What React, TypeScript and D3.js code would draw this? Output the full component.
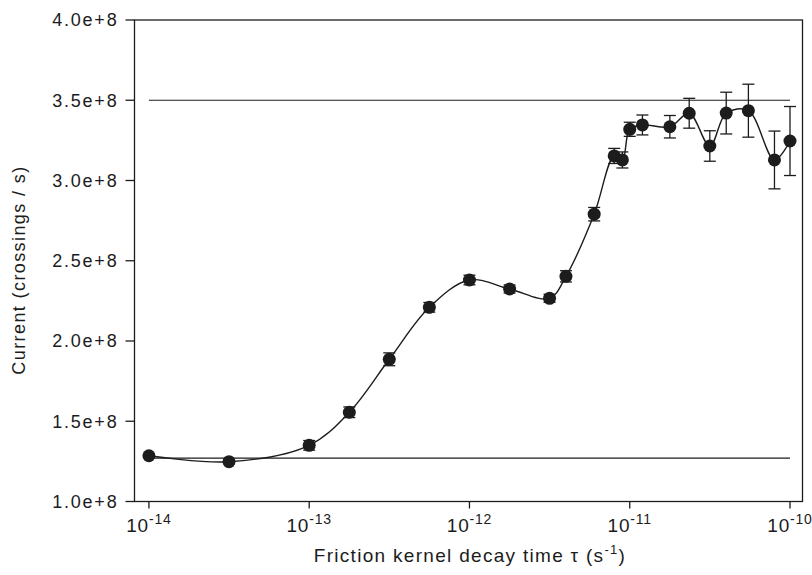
import React from 'react'
import * as d3 from 'd3'

// friction kernel decay time (s) and measured current (crossings / s)
const tau = [
  1e-14, 3.16e-14, 1e-13, 1.78e-13, 3.16e-13, 5.62e-13, 1e-12, 1.78e-12,
  3.16e-12, 4e-12, 6e-12, 8e-12, 9e-12, 1e-11, 1.2e-11, 1.78e-11,
  2.35e-11, 3.16e-11, 4e-11, 5.5e-11, 8e-11, 1e-10,
]
const current = [
  1.285e8, 1.248e8, 1.35e8, 1.556e8, 1.886e8, 2.21e8, 2.38e8, 2.324e8,
  2.266e8, 2.403e8, 2.79e8, 3.153e8, 3.128e8, 3.319e8, 3.346e8, 3.335e8,
  3.419e8, 3.215e8, 3.42e8, 3.435e8, 3.128e8, 3.246e8,
]
const currentErr = [
  0.012e8, 0.012e8, 0.03e8, 0.033e8, 0.04e8, 0.03e8, 0.03e8, 0.025e8,
  0.025e8, 0.035e8, 0.042e8, 0.047e8, 0.05e8, 0.044e8, 0.062e8, 0.07e8,
  0.093e8, 0.095e8, 0.13e8, 0.165e8, 0.18e8, 0.215e8,
]
// horizontal reference levels
const refLevels = [3.5e8, 1.27e8]
const refSpan = [1e-14, 1e-10]

const yTicks = [1e8, 1.5e8, 2e8, 2.5e8, 3e8, 3.5e8, 4e8]
const xTicks = [1e-14, 1e-13, 1e-12, 1e-11, 1e-10]

const W = 812
const H = 575
const LEFT = 134.5
const RIGHT = 802.5
const TOP = 20
const BOTTOM = 501.5
const INK = '#1c1c1c'
const FONT = '"Liberation Sans", Arial, sans-serif'

export default function App() {
  const x = d3.scaleLog().domain([10 ** -14.09, 10 ** -9.922]).range([LEFT, RIGHT])
  const y = d3.scaleLinear().domain([1e8, 4e8]).range([BOTTOM, TOP])

  const pts: [number, number][] = tau.map((t, i) => [x(t), y(current[i])])
  const curve = d3.line().curve(d3.curveCatmullRom.alpha(0.5))(pts) || ''

  return (
    <svg width={W} height={H} style={{ position: 'absolute', left: 0, top: 0, background: '#fff' }}>
      <rect x={0} y={0} width={W} height={H} fill="#fff" />
      {/* frame */}
      <rect x={LEFT} y={TOP} width={RIGHT - LEFT} height={BOTTOM - TOP}
        fill="none" stroke={INK} strokeWidth={1.3} />

      {/* y ticks */}
      {yTicks.map(v => (
        <g key={v}>
          <line x1={LEFT - 9} x2={LEFT} y1={y(v)} y2={y(v)} stroke={INK} strokeWidth={1.3} />
          <text x={LEFT - 16} y={y(v)} dy="0.36em" textAnchor="end" fontFamily={FONT}
            fontSize={18} letterSpacing={1.8} fill={INK}>
            {d3.format('.1e')(v)}
          </text>
        </g>
      ))}

      {/* x ticks */}
      {xTicks.map(v => (
        <g key={v}>
          <line x1={x(v)} x2={x(v)} y1={BOTTOM} y2={BOTTOM + 7} stroke={INK} strokeWidth={1.3} />
          <text x={x(v)} y={531.5} textAnchor="middle" fontFamily={FONT} fontSize={19}
            letterSpacing={0.8} fill={INK}>
            10<tspan fontSize={14} dy={-8}>{'-' + Math.round(-Math.log10(v))}</tspan>
          </text>
        </g>
      ))}

      {/* reference lines */}
      {refLevels.map(v => (
        <line key={v} x1={x(refSpan[0])} x2={x(refSpan[1])} y1={y(v)} y2={y(v)}
          stroke={INK} strokeWidth={1.2} />
      ))}

      {/* fitted curve */}
      <path d={curve} fill="none" stroke={INK} strokeWidth={1.4} />

      {/* error bars */}
      {tau.map((t, i) => {
        const cx = x(t)
        const y0 = y(current[i] - currentErr[i])
        const y1 = y(current[i] + currentErr[i])
        return (
          <g key={'e' + i} stroke={INK} strokeWidth={1.3}>
            <line x1={cx} x2={cx} y1={y0} y2={y1} />
            <line x1={cx - 6} x2={cx + 6} y1={y0} y2={y0} />
            <line x1={cx - 6} x2={cx + 6} y1={y1} y2={y1} />
          </g>
        )
      })}

      {/* markers */}
      {pts.map((p, i) => (
        <circle key={'p' + i} cx={p[0]} cy={p[1]} r={6.5} fill={INK} />
      ))}

      {/* axis titles */}
      <text x={470} y={562} textAnchor="middle" fontFamily={FONT} fontSize={19}
        letterSpacing={1.3} fill={INK}>
        Friction kernel decay time τ (s<tspan fontSize={13} dy={-8}>-1</tspan><tspan dy={8}>)</tspan>
      </text>
      <text transform="translate(25,270) rotate(-90)" textAnchor="middle"
        fontFamily={FONT} fontSize={18} letterSpacing={1.4} fill={INK}>
        Current (crossings / s)
      </text>
    </svg>
  )
}
